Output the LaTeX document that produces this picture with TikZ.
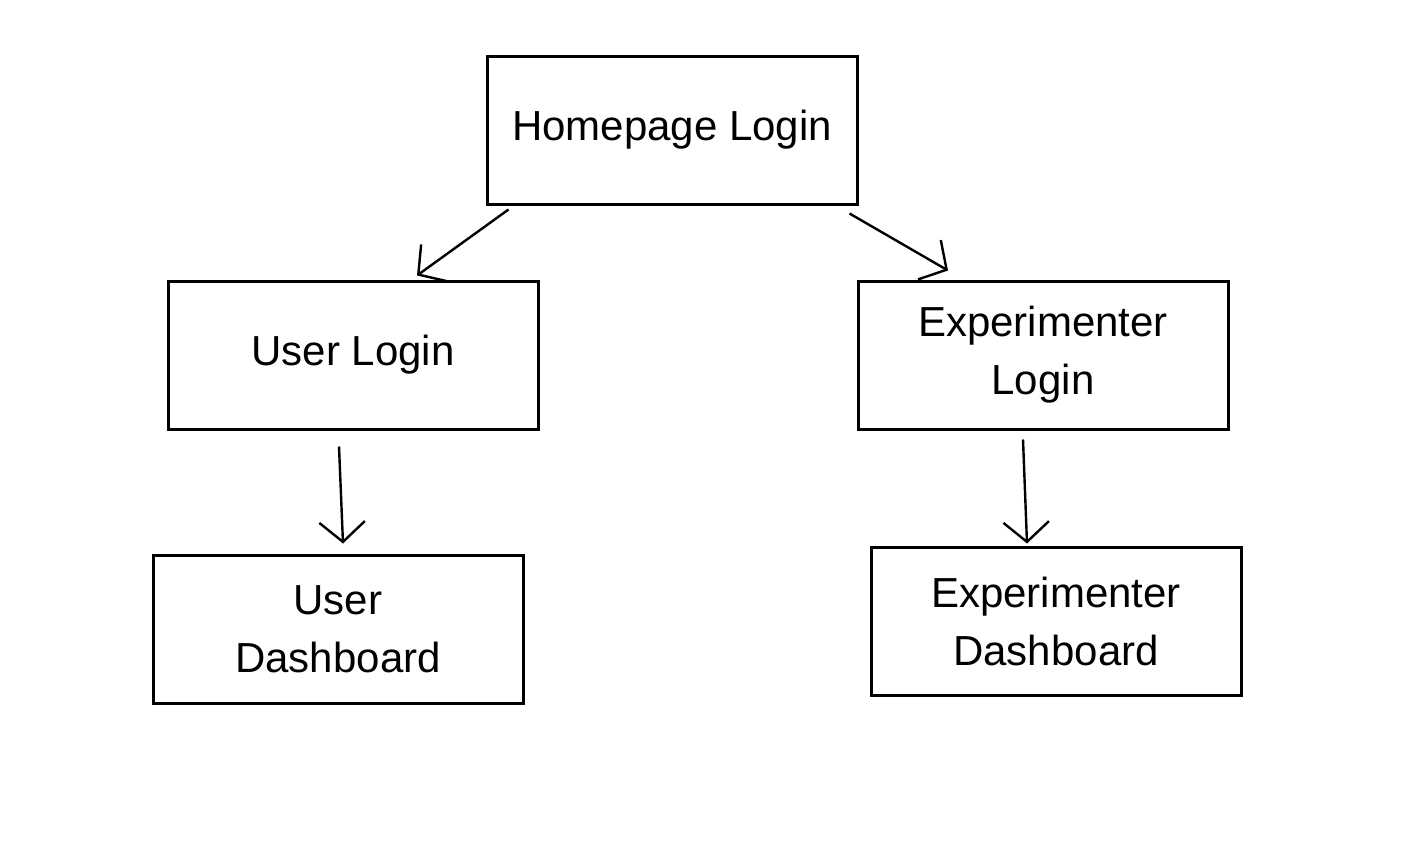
\documentclass[tikz,border=0pt]{standalone}
\usepackage{fontspec}
\setmainfont{Liberation Sans}
\usetikzlibrary{arrows.meta,positioning}
\tikzset{
  pagebox/.style={draw=black,line width=1.5pt,minimum width=185pt,
              minimum height=74pt,align=center,inner sep=4pt,
              font=\fontsize{21}{29}\selectfont},
  flow/.style={-{Straight Barb[length=3.5mm,width=8mm]},line width=1.2pt}
}

\begin{document}
\begin{tikzpicture}[x=0.5pt,y=-0.5pt]
  \useasboundingbox (0,0) rectangle (1406,846);
  \node[pagebox] (home) at (672,130) {Homepage Login};
  \node[pagebox] (user) at (353,355) {User Login};
  \node[pagebox] (exp) at (1043,355) {Experimenter\\Login};
  \node[pagebox] (userdash) at (338,629) {User\\Dashboard};
  \node[pagebox] (expdash) at (1056,621) {Experimenter\\Dashboard};
  \draw[flow] ([xshift=11.5pt,yshift=-2pt]home.south west) -- ([xshift=32pt,yshift=2pt]user.north);
  \draw[flow] ([xshift=-4.5pt,yshift=-4pt]home.south east) -- ([xshift=-47.5pt,yshift=4.5pt]exp.north);
  \draw[flow] ([xshift=-7pt,yshift=-8pt]user.south) -- ([xshift=2.5pt,yshift=5pt]userdash.north);
  \draw[flow] ([xshift=-10pt,yshift=-4.5pt]exp.south) -- ([xshift=-14.5pt,yshift=1pt]expdash.north);
\end{tikzpicture}
\end{document}
